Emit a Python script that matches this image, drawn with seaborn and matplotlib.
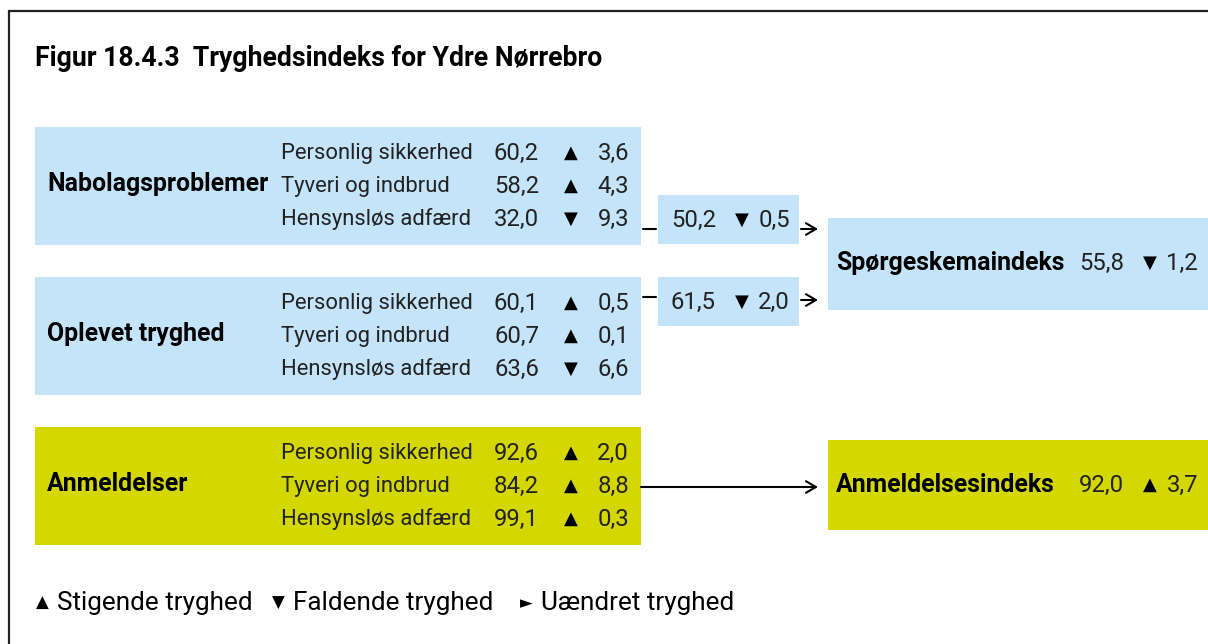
import matplotlib
matplotlib.use("Agg")
import matplotlib.pyplot as plt
from matplotlib.patches import Rectangle
import seaborn as sns

# ---- data ----
title = "Figur 18.4.3  Tryghedsindeks for Ydre Nørrebro"
groups = ["Nabolagsproblemer", "Oplevet tryghed", "Anmeldelser"]
items = ["Personlig sikkerhed", "Tyveri og indbrud", "Hensynsløs adfærd"]
nabo_values = [60.2, 58.2, 32.0]
nabo_change = [3.6, 4.3, -9.3]
opl_values = [60.1, 60.7, 63.6]
opl_change = [0.5, 0.1, -6.6]
anm_values = [92.6, 84.2, 99.1]
anm_change = [2.0, 8.8, 0.3]
sub_values = [50.2, 61.5]
sub_change = [-0.5, -2.0]
survey_label = "Spørgeskemaindeks"
survey_value = 55.8
survey_change = -1.2
report_label = "Anmeldelsesindeks"
report_value = 92.0
report_change = 3.7
legend_items = ["Stigende tryghed", "Faldende tryghed", "Uændret tryghed"]

BLUE = "#c4e5f9"
YELLOW = "#d4d800"
TXT = "#222222"

sns.set_theme(style="white")
plt.rcParams["font.family"] = ["Roboto", "DejaVu Sans"]

fig = plt.figure(figsize=(12.08, 6.44), dpi=100)
ax = fig.add_axes([0, 0, 1, 1])
ax.set_xlim(0, 1208)
ax.set_ylim(644, 0)
ax.axis("off")

BODY = dict(fontsize=15.8, fontweight="normal", color=TXT, va="center")
NUM = dict(fontsize=17.2, fontweight="normal", color=TXT, va="center")
BOLD = dict(fontsize=17.9, fontweight="bold", color="black", va="center", ha="left")

def fmt(v):
    return f"{abs(v):.1f}".replace(".", ",")

def tri(v):
    return "▲" if v > 0 else ("▼" if v < 0 else "►")

def draw_tri(x, y, v, size=13):
    ax.text(x, y, tri(v), fontsize=size, color="black", va="center", ha="center",
            family="DejaVu Sans")

# frame (top and left lines)
ax.plot([9, 1208], [11, 11], color="#222222", lw=1.6)
ax.plot([9, 9], [11, 644], color="#222222", lw=1.6)

ax.text(35, 58, title, fontsize=19.2, fontweight="bold", color="black",
        va="center", ha="left")

blocks = [
    (groups[0], nabo_values, nabo_change, 127, BLUE),
    (groups[1], opl_values, opl_change, 277, BLUE),
    (groups[2], anm_values, anm_change, 427, YELLOW),
]
row_off = [26, 59, 92]
for name, vals, chg, top, col in blocks:
    ax.add_patch(Rectangle((35, top), 606, 118, color=col, lw=0))
    ax.text(47, top + 57, name, **BOLD)
    for i, (it, v, c) in enumerate(zip(items, vals, chg)):
        y = top + row_off[i]
        ax.text(281, y, it, ha="left", **BODY)
        ax.text(539, y, fmt(v), ha="right", **NUM)
        draw_tri(571, y, c)
        ax.text(629, y, fmt(c), ha="right", **NUM)

# sub-index boxes
sub_tops = [195, 277]
for top, v, c in zip(sub_tops, sub_values, sub_change):
    ax.add_patch(Rectangle((658, top), 141, 49, color=BLUE, lw=0))
    y = top + 25
    ax.text(716, y, fmt(v), ha="right", **NUM)
    draw_tri(742, y, c)
    ax.text(790, y, fmt(c), ha="right", **NUM)

# connectors
ax.plot([643, 656], [229, 229], color="black", lw=1.5)
ax.plot([643, 656], [297, 297], color="black", lw=1.5)
arrow_kw = dict(arrowstyle="->,head_length=0.6,head_width=0.35", color="black", lw=1.5,
                shrinkA=0, shrinkB=0)
ax.annotate("", xy=(818, 229), xytext=(801, 229), arrowprops=arrow_kw)
ax.annotate("", xy=(818, 300), xytext=(801, 300), arrowprops=arrow_kw)
ax.annotate("", xy=(818, 487), xytext=(641, 487), arrowprops=arrow_kw)

# big index boxes
for label, v, c, top, h, col in [
    (survey_label, survey_value, survey_change, 218, 92, BLUE),
    (report_label, report_value, report_change, 440, 90, YELLOW),
]:
    ax.add_patch(Rectangle((828, top), 380, h, color=col, lw=0))
    y = top + 45
    ax.text(836, y, label, **BOLD)
    ax.text(1124, y, fmt(v), ha="right", **NUM)
    draw_tri(1150, y, c)
    ax.text(1198, y, fmt(c), ha="right", **NUM)

# legend
leg_x = [35, 271, 519]
leg_sym = ["▲", "▼", "►"]
for x, s, t in zip(leg_x, leg_sym, legend_items):
    ax.text(x + 7, 603, s, fontsize=12, color="black", va="center", ha="center",
            family="DejaVu Sans")
    ax.text(x + 22, 603, t, fontsize=18.8, fontweight="normal", color="black",
            va="center", ha="left")

fig.savefig("out.png", dpi=100, facecolor="white")
